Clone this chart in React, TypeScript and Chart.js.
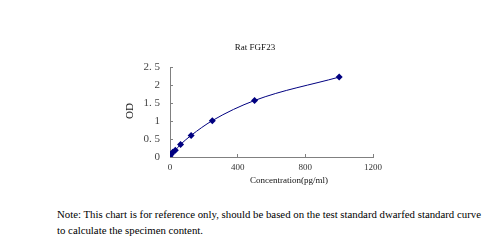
import React, { useEffect, useRef } from "react";
import { Chart, registerables } from "chart.js";

Chart.register(...registerables);

const concentrations = [0, 7.8, 15.6, 31.25, 62.5, 125, 250, 500, 1000];
const odValues = [0.03, 0.08, 0.13, 0.19, 0.35, 0.6, 1.01, 1.57, 2.22];
const xTicks = [0, 400, 800, 1200];
const yTicks = [0, 0.5, 1, 1.5, 2, 2.5];
const chartTitle = "Rat FGF23";
const xTitle = "Concentration(pg/ml)";
const yTitle = "OD";
const noteLine1 = "Note: This chart is for reference only, should be based on the test standard dwarfed standard curve";
const noteLine2 = "to calculate the specimen content.";

const serif = '"Liberation Serif", "Times New Roman", serif';

export default function App() {
  const ref = useRef<HTMLCanvasElement | null>(null);

  useEffect(() => {
    if (!ref.current) return;
    const chart = new Chart(ref.current, {
      type: "line",
      data: {
        datasets: [
          {
            data: concentrations.map((c, i) => ({ x: c, y: odValues[i] })),
            borderColor: "#000080",
            backgroundColor: "#000080",
            borderWidth: 1,
            pointStyle: "rectRot",
            pointRadius: 3.5,
            pointBorderWidth: 0,
            cubicInterpolationMode: "monotone",
          },
        ],
      },
      options: {
        animation: false,
        responsive: false,
        devicePixelRatio: 1,
        layout: { padding: { left: 0, top: 67, right: 121, bottom: 0 } },
        plugins: { legend: { display: false }, tooltip: { enabled: false } },
        scales: {
          x: {
            type: "linear",
            min: xTicks[0],
            max: xTicks[xTicks.length - 1],
            afterBuildTicks: (s: any) => {
              s.ticks = xTicks.map((v) => ({ value: v }));
            },
            afterFit: (s: any) => {
              s.height = 33;
            },
            ticks: {
              color: "#333",
              font: { family: serif, size: 9 },
              padding: 8,
              maxRotation: 0,
              callback: (v: any) => String(v),
            },
            grid: {
              display: true,
              drawOnChartArea: false,
              drawTicks: true,
              tickLength: -3,
              color: "#808080",
            },
            border: { display: true, color: "#808080", width: 1 },
          },
          y: {
            type: "linear",
            min: yTicks[0],
            max: yTicks[yTicks.length - 1],
            afterBuildTicks: (s: any) => {
              s.ticks = yTicks.map((v) => ({ value: v }));
            },
            afterFit: (s: any) => {
              s.width = 170;
            },
            ticks: {
              color: "#444",
              font: { family: serif, size: 11 },
              padding: 13,
              callback: (v: any) => String(v).replace(".", ". "),
            },
            grid: {
              display: true,
              drawOnChartArea: false,
              drawTicks: true,
              tickLength: -3,
              color: "#808080",
            },
            border: { display: true, color: "#808080", width: 1 },
          },
        },
      },
    } as any);
    return () => chart.destroy();
  }, []);

  const abs = (left: number, top: number, extra: React.CSSProperties = {}): React.CSSProperties => ({
    position: "absolute",
    left,
    top,
    whiteSpace: "nowrap",
    fontFamily: serif,
    color: "#111",
    ...extra,
  });

  return (
    <div style={{ position: "absolute", left: 0, top: 0, width: 494, height: 251, background: "#fff", overflow: "hidden" }}>
      <canvas ref={ref} width={494} height={190} style={{ position: "absolute", left: 0, top: 0, width: 494, height: 190 }} />
      <div style={abs(255, 47, { fontSize: 9, transform: "translate(-50%, -50%)" })}>{chartTitle}</div>
      <div style={abs(289, 180, { fontSize: 9, transform: "translate(-50%, -50%)" })}>{xTitle}</div>
      <div style={abs(129, 111, { fontSize: 11, transform: "translate(-50%, -50%) rotate(-90deg)" })}>{yTitle}</div>
      <div style={abs(57, 206, { fontSize: 10.8, lineHeight: "16px", color: "#000" })}>
        {noteLine1}
        <br />
        {noteLine2}
      </div>
    </div>
  );
}
